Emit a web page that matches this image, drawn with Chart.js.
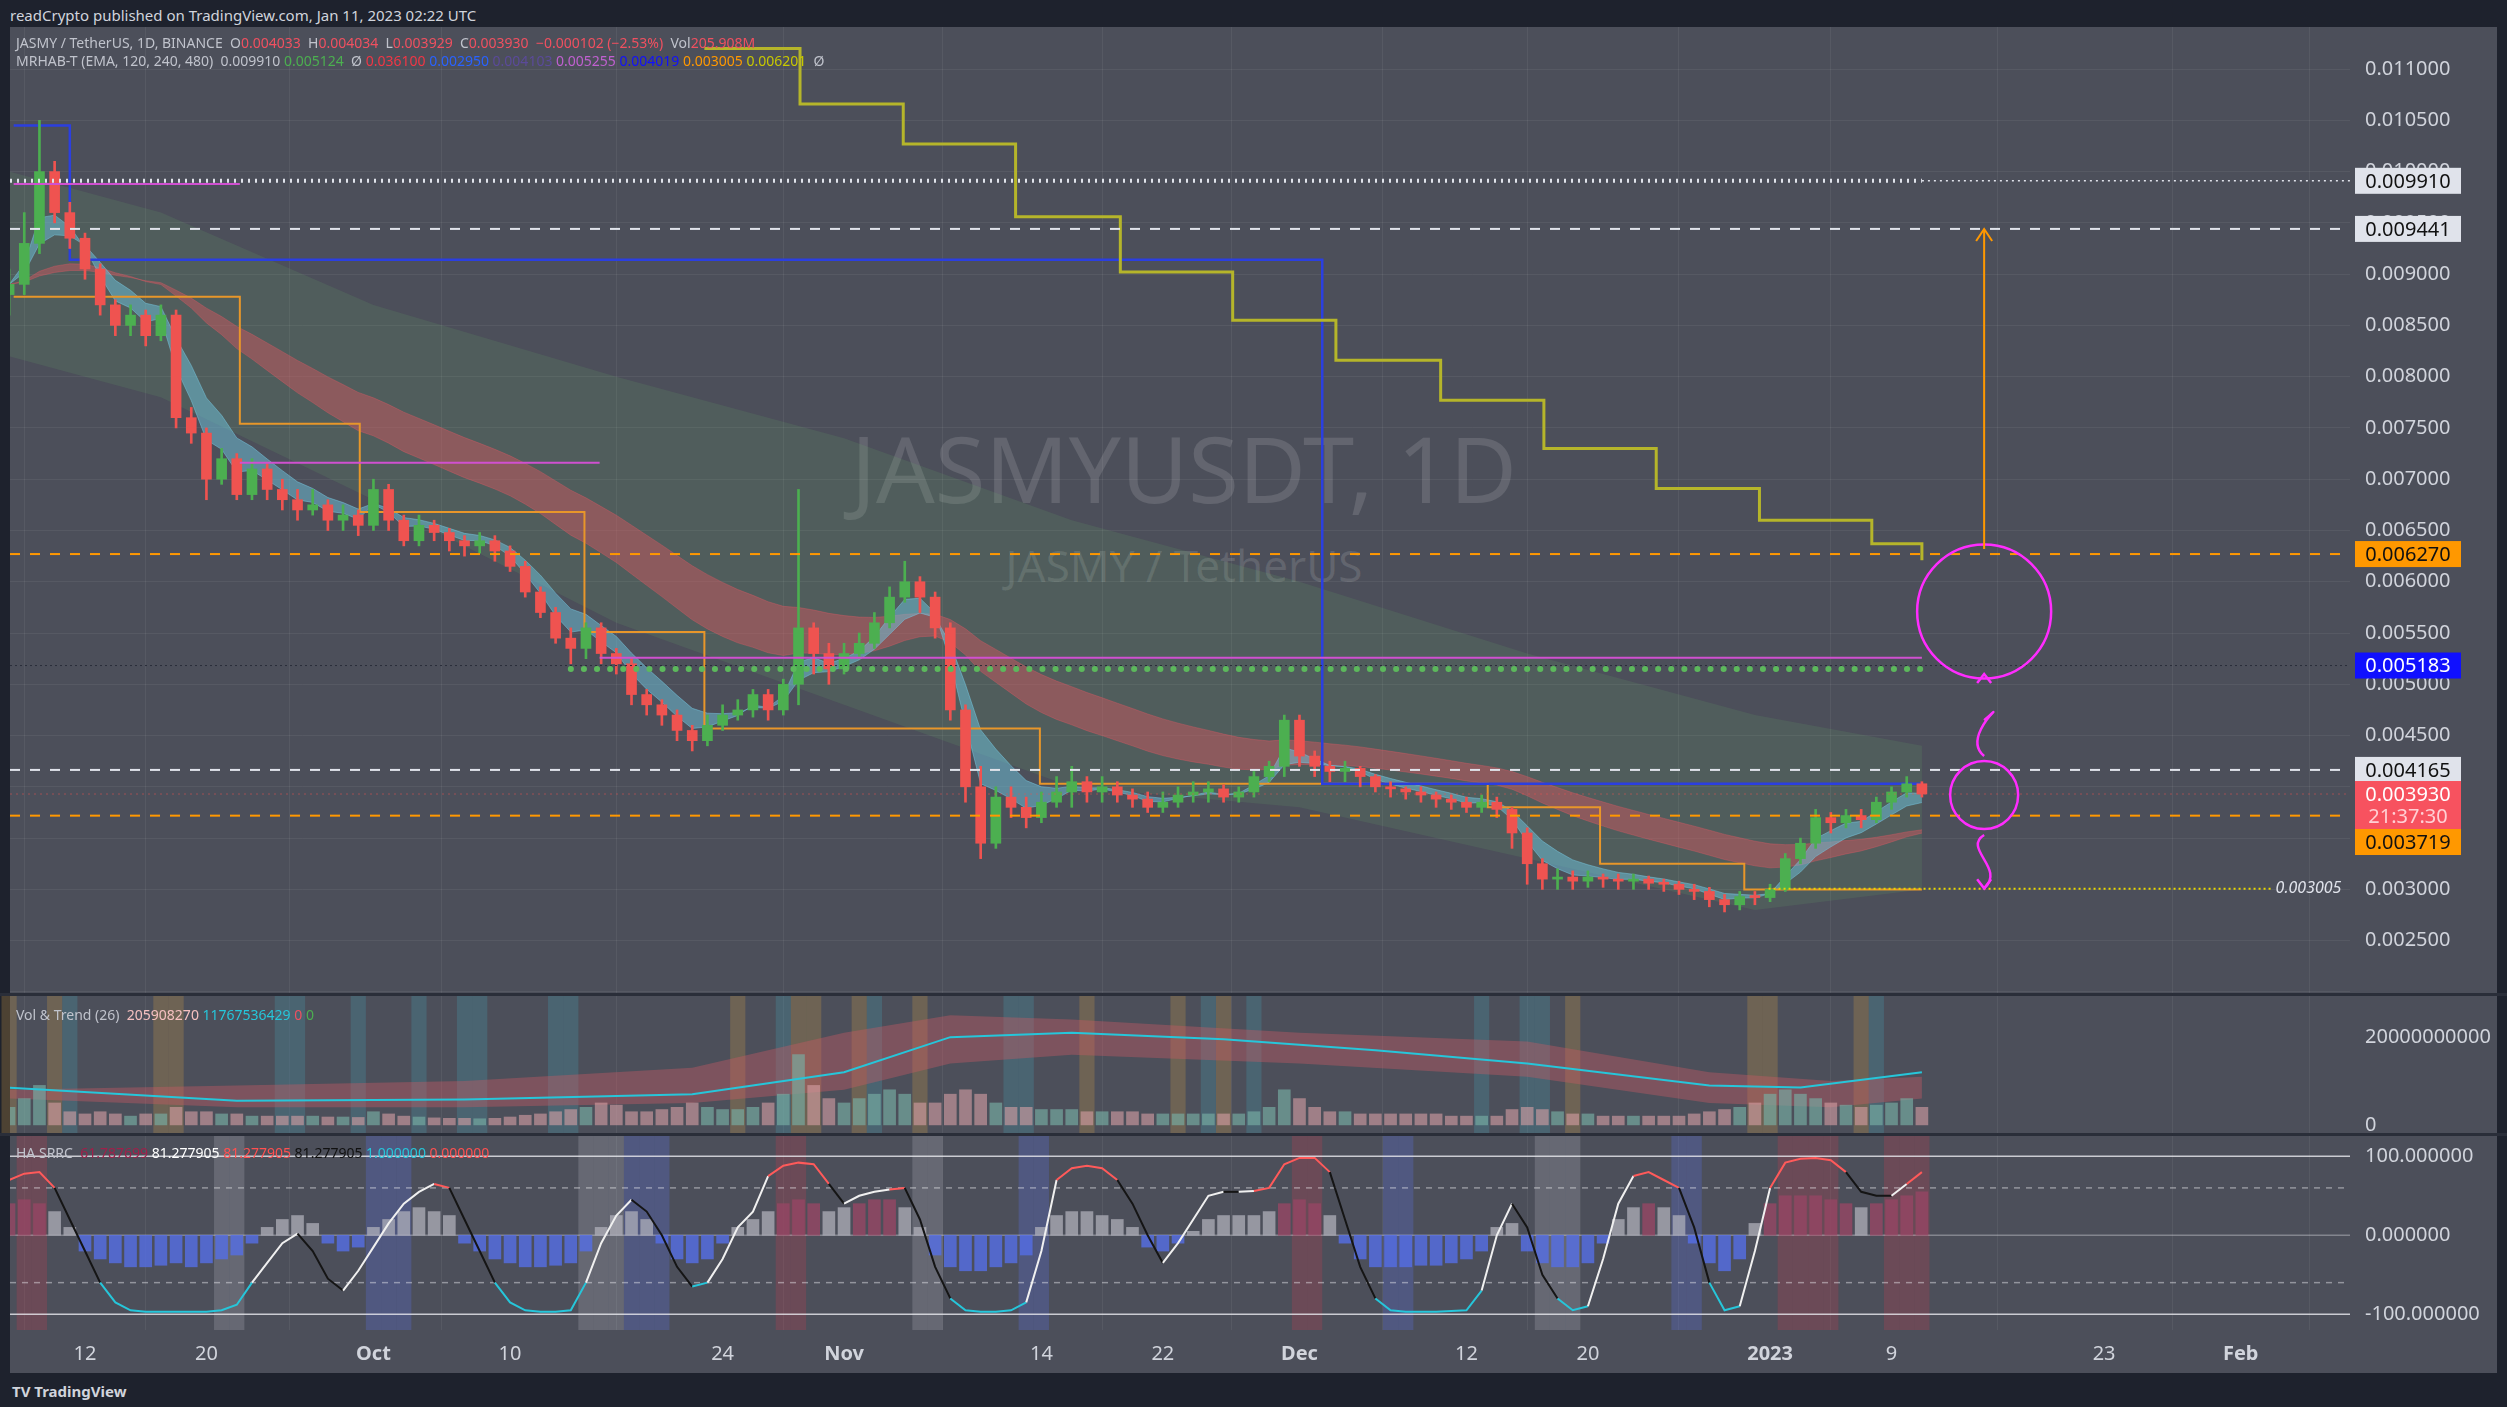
<!DOCTYPE html>
<html><head><meta charset="utf-8">
<script src="https://cdn.jsdelivr.net/npm/chart.js@4.4.1/dist/chart.umd.min.js"></script>
<style>
html,body{margin:0;padding:0;background:#1e222d;width:2507px;height:1407px;overflow:hidden;font-family:"Noto Sans",Roboto,sans-serif}
.abs{position:absolute}
#panel{left:10px;top:27px;width:2487px;height:1346px;background:#4c4f5a}
canvas{position:absolute;left:0}
.wm{color:rgba(255,255,255,0.13);text-align:center;width:1400px;font-family:"Noto Sans",sans-serif}
.lg{font-size:14px;white-space:nowrap;color:#c0c3cc}
</style></head><body>
<div id="panel" class="abs"></div>
<div class="abs wm" style="left:484px;top:405px;font-size:92px">JASMYUSDT, 1D</div>
<div class="abs wm" style="left:484px;top:535px;font-size:44px">JASMY / TetherUS</div>
<canvas id="c1" style="top:27px" width="2507" height="968"></canvas>
<canvas id="c2" style="top:995px" width="2507" height="140"></canvas>
<canvas id="c3" style="top:1135px" width="2507" height="238"></canvas>
<div class="abs lg" style="left:10px;top:5px;font-size:15px;color:#d1d4dc">readCrypto published on TradingView.com, Jan 11, 2023 02:22 UTC</div>
<div class="abs lg" style="left:16px;top:33px">JASMY / TetherUS, 1D, BINANCE &nbsp;O<span style="color:#f05060">0.004033</span> &nbsp;H<span style="color:#f05060">0.004034</span> &nbsp;L<span style="color:#f05060">0.003929</span> &nbsp;C<span style="color:#f05060">0.003930</span> &nbsp;<span style="color:#f05060">−0.000102 (−2.53%)</span> &nbsp;Vol<span style="color:#f05060">205.908M</span></div>
<div class="abs lg" style="left:16px;top:51px">MRHAB-T (EMA, 120, 240, 480) &nbsp;0.009910 <span style="color:#4caf50">0.005124</span> &nbsp;Ø <span style="color:#f23645">0.036100</span> <span style="color:#2962ff">0.002950</span> <span style="color:#5b4a9a">0.004103</span> <span style="color:#c060d0">0.005255</span> <span style="color:#1010ff">0.004019</span> <span style="color:#ff9800">0.003005</span> <span style="color:#c8c800">0.006201</span> &nbsp;Ø</div>
<div class="abs lg" style="left:16px;top:1005px">Vol &amp; Trend (26) &nbsp;<span style="color:#f5c0c0">205908270</span> <span style="color:#26c6da">11767536429</span> <span style="color:#f05060">0</span> <span style="color:#4caf50">0</span></div>
<div class="abs lg" style="left:16px;top:1143px">HA SRRC &nbsp;<span style="color:#a0204a">61.787699</span> <span style="color:#fff">81.277905</span> <span style="color:#ff5050">81.277905</span> <span style="color:#111">81.277905</span> <span style="color:#26c6da">1.000000</span> <span style="color:#ff5050">0.000000</span></div>
<div class="abs lg" style="left:12px;top:1381px;font-size:15px;color:#d1d4dc;font-weight:bold">TV TradingView</div>
<script>
// ---- data (prices in units of 1e-5 USDT, day 0 = Sep 7 2022) ----
const closes=[890,930,1000,960,935,905,870, 850,860,840,860,760,745,700, 720,685,710,690,680,670,675, 660,665,655,690,660,640,655, 648,640,635,640,630,615,590, 570,545,535,555,530,520,490, 480,470,455,445,460,470,475, 490,475,500,555,530,515,530, 540,560,585,600,585,555,475, 400,345,390,380,370,385,395, 405,395,400,392,388,380,385, 392,395,398,390,395,410,420, 465,430,420,415,418,410,400, 398,395,392,388,385,380,385, 378,355,325,310,312,308,312, 310,308,310,306,305,300,298, 290,285,293,292,300,330,345, 370,365,372,368,385,395,403, 393];
const firstOpen=880;
const highs=[905,960,1050,1010,970,940,910, 875,870,865,870,865,770,750, 730,725,720,715,700,690,690, 680,675,670,700,695,665,665, 660,652,645,648,645,635,620, 595,575,555,560,560,535,525, 495,485,475,460,470,480,485, 495,495,505,690,560,540,540, 550,570,595,620,605,590,560, 480,420,400,400,390,395,410, 420,410,410,405,398,395,395, 400,405,405,402,400,415,425, 470,470,435,425,425,420,412, 405,400,400,395,392,390,392, 390,380,360,330,320,318,318, 315,315,315,313,310,308,305, 302,295,298,298,305,335,350, 378,375,378,378,390,400,410, 405];
const lows=[860,880,920,950,925,895,860, 840,840,830,835,750,735,680, 695,680,680,680,670,660,665, 650,650,645,650,650,635,635, 640,630,625,628,620,610,585, 565,540,520,525,520,510,480, 470,460,445,435,440,455,465, 468,465,470,480,510,500,510, 525,535,555,580,570,545,465, 385,330,340,370,360,365,380, 380,385,385,385,380,375,375, 380,385,385,385,385,390,405, 410,420,410,405,405,400,395, 390,388,385,380,378,375,375, 370,340,305,300,300,300,302, 302,300,300,300,298,295,290, 283,278,280,285,288,298,325, 340,355,360,360,365,378,390, 390];
const volumes=[4,6,9,5,3,2.5,3, 2.5,2,2.5,2.5,4,3,3, 2.5,2.5,2,2,2,2,2, 1.8,1.8,1.7,3,2.5,2,1.8, 1.6,1.5,1.5,1.4,1.5,1.8,2.2, 2.5,3,3.5,4,5,4.5,3, 3,3.5,4,5,4,3.5,3.5, 4,5,7,16,9,6,5, 6,7,8,7,5,5,7, 8,7,5,4,4,3.5,3.5, 3.5,3,3,3,3,2.5,2.5, 2.5,2.5,2.5,2.5,2.5,3,4, 8,6,4,3,3,2.5,2.5, 2.5,2.5,2.5,2.5,2,2,2, 2,3.5,4,3.5,3,2.5,2.5, 2,2,2,2,2,2,2.5, 3,3.5,4,5,7,8,7, 6,5,4.5,4,4.5,5,6, 4]; // x1e9
const osc=[70,78,80,60,20,-20,-60, -85,-95,-97,-97,-97,-97,-97, -95,-88,-60,-35,-10,2,-20, -55,-70,-45,-15,15,40,55, 65,60,20,-20,-60,-85,-95, -97,-97,-95,-60,-10,25,45, 30,0,-40,-65,-60,-30,10, 30,75,88,92,90,65,40, 50,55,58,60,20,-40,-80, -95,-97,-97,-95,-85,-20,70, 85,88,85,70,40,0,-35, -10,20,50,55,55,56,60, 90,98,98,80,20,-40,-80, -95,-97,-97,-97,-96,-95,-70, 0,40,10,-50,-80,-95,-90, -30,40,75,80,70,60,10, -60,-95,-90,-20,60,92,97, 98,95,80,55,50,50,65, 80];
const hist=[40,45,40,30,10,-20,-30, -35,-40,-40,-38,-35,-40,-35, -30,-25,-10,10,20,25,15, -10,-20,-15,10,20,30,35, 30,25,-10,-20,-30,-35,-40, -40,-38,-35,-20,10,25,30, 20,-10,-30,-35,-30,-10,10, 20,30,40,45,40,30,35, 40,45,45,35,10,-25,-40, -45,-45,-40,-35,-25,10,25, 30,30,25,20,10,-15,-20, -10,5,20,25,25,25,30, 40,45,40,25,-10,-30,-40, -40,-40,-38,-38,-35,-30,-20, 10,15,-20,-35,-40,-40,-35, -10,20,35,40,35,25,-10, -35,-45,-30,15,40,50,50, 50,45,40,35,40,45,50, 55];
const cloudDays=[0,10,24,40,55,70,85,100,115,126];
const cloudUpper=[1000,960,870,800,740,660,600,530,470,440];
const cloudLower=[820,780,680,560,480,400,380,330,280,300];
const yellowDays=[45.8,52.1,58.9,66.3,73.2,80.6,87.4,94.3,101.1,108.5,115.3,122.7,126];
const yellowVals=[1120,1066,1027,956,902,855,816,777,730,691,660,637,621];
const blueDays=[0.3,4,86.5,126];
const blueVals=[1045,914,403,403];
const orangeDays=[0.3,15.2,23.1,37.9,45.8,67.9,97.4,104.8,114.3,126];
const orangeVals=[878,754,668,551,457,403,380,325,300,300];
const volTrendDays=[0,15,30,45,55,62,70,80,90,100,112,118,126];
const volTrend=[8.5,5.5,5.8,7,12,20,21,19.5,17,14,9,8.5,12];
const volBandDays=[0,15,30,45,55,62,70,85,100,112,120,126];
const volBandUp=[8,9,10,13,21,25,24,21,19,12,10,11];
const volBandLo=[6,4,4,5,8,14,16,14,11,5,4,6];
const levels=[{p:0.009910,c:'#e0e3eb',t:'#111',dash:[2,4],w:3},{p:0.009441,c:'#e0e3eb',t:'#111',dash:[10,10],w:2},{p:0.006270,c:'#ff9800',t:'#111',dash:[10,10],w:2},{p:0.005183,c:'#1010ff',t:'#fff',dash:[2,3],w:1,lc:'#2a2e39'},{p:0.004165,c:'#e0e3eb',t:'#111',dash:[10,10],w:2},{p:0.003719,c:'#ff9800',t:'#111',dash:[10,10],w:2,noBox:true}];
const tickDays=[5,13,24,33,47,55,68,76,85,96,104,116,124,138,147];
const tickNames=['12','20','Oct','10','24','Nov','14','22','Dec','12','20','2023','9','23','Feb'];
const XMIN=0.06,XMAX=154.2;

const P=v=>v/1e5;
const opens=closes.map((c,i)=>i===0?firstOpen:closes[i-1]);
function ema(arr,n){const k=2/(n+1);let e=arr[0];return arr.map(v=>(e=v*k+e*(1-k)));}
const e3=ema(closes,3),e6=ema(closes,6),e20=ema(closes,22),e30=ema(closes,35);
const pts=(xs,ys,f=P)=>xs.map((x,i)=>({x,y:f(ys[i])}));
const daily=(a,f=P)=>a.map((v,i)=>({x:i,y:f(v)}));
const UP='#4caf50',DN='#ef5350';

const gridC='rgba(255,255,255,0.06)';
function xAxis(show){return {type:'linear',min:XMIN,max:XMAX,offset:false,
  afterBuildTicks:s=>{s.ticks=tickDays.map(v=>({value:v}));},
  afterFit:s=>{s.height=show?43:0;},
  grid:{color:gridC,drawTicks:false},border:{display:false},
  ticks:{display:show,color:'#d1d4dc',padding:12,maxRotation:0,autoSkip:false,
    font:c=>({size:20,family:'Noto Sans',weight:['Oct','Nov','Dec','2023','Feb'].includes(tickNames[c.index])?'bold':'normal'}),
    callback:(v,i)=>tickNames[i]}};}
function yAxis(o,grid){return Object.assign({position:'right',afterFit:s=>{s.width=147;},
  grid:{display:grid,color:gridC,drawTicks:false},border:{display:false},
  ticks:{display:false}},o);}
const base={responsive:false,animation:false,events:[],layout:{padding:{left:10,right:10,top:0,bottom:0}},
  plugins:{legend:{display:false},tooltip:{enabled:false}}};
const yLabels={id:'yl',afterDatasetsDraw(ch,args,opt){const c=ch.ctx,ys=ch.scales.y,a=ch.chartArea;c.save();c.font='20px Noto Sans';c.fillStyle='#d1d4dc';c.textAlign='left';c.textBaseline='middle';
  ys.ticks.forEach(t=>{const y=ys.getPixelForValue(t.value);if(y<a.top+6||y>a.bottom-4)return;c.fillText(opt.fmt(t.value),a.right+15,y);});c.restore();}};

const overlay={id:'ov',afterDatasetsDraw(ch){
  const c=ch.ctx,a=ch.chartArea,xs=ch.scales.x,ys=ch.scales.y;
  const X=d=>xs.getPixelForValue(d),Y=p=>ys.getPixelForValue(p);
  c.save();c.beginPath();c.rect(a.left,a.top,a.right-a.left,a.bottom-a.top);c.clip();
  function hl(p,x0,x1,col,dash,w){c.beginPath();c.setLineDash(dash);c.lineWidth=w;c.strokeStyle=col;c.lineCap='butt';c.moveTo(x0,Y(p));c.lineTo(x1,Y(p));c.stroke();}
  hl(0.00988,X(0.3),X(15.2),'#d050d0',[],2);hl(0.00716,X(15.2),X(38.9),'#d050d0',[],2);hl(0.00526,X(38.9),X(126),'#d050d0',[],2);
  levels.forEach(l=>{ if(l.p===0.009910){hl(l.p,a.left,X(126),'#e0e3eb',[2,5],4);hl(l.p,X(126),a.right,'#e0e3eb',[2,4],1.5);} else hl(l.p,a.left,a.right,l.lc||l.c,l.dash,l.w);});
  hl(0.00393,a.left,a.right,'rgba(239,83,80,0.5)',[2,4],1);
  c.beginPath();c.setLineDash([0.1,13]);c.lineCap='round';c.lineWidth=6;c.strokeStyle='#5cb85c';c.moveTo(X(37),Y(0.00515));c.lineTo(X(126),Y(0.00515));c.stroke();
  hl(0.003005,X(115.9),X(149),'#e8d800',[2,3],2);
  c.lineCap='butt';c.setLineDash([]);
  c.font='italic 16px Noto Sans';c.fillStyle='#e0e3eb';c.textAlign='left';c.textBaseline='middle';c.fillText('0.003005',X(149.3),Y(0.003005));
  const cx=X(130.1);c.strokeStyle='#ff2cff';c.lineWidth=2.5;
  c.beginPath();c.arc(cx,Y(0.00571),67,0,Math.PI*2);c.stroke();
  c.beginPath();c.arc(cx,Y(0.00392),34,0,Math.PI*2);c.stroke();
  c.beginPath();c.moveTo(cx,Y(0.00465));c.bezierCurveTo(cx+30,Y(0.0049),cx-25,Y(0.0045),cx,Y(0.00430));c.stroke();
  c.beginPath();c.moveTo(cx,Y(0.00353));c.bezierCurveTo(cx-22,Y(0.0034),cx+22,Y(0.0032),cx,Y(0.00301));c.stroke();
  [[cx,Y(0.00510),-1],[cx,Y(0.00301),1]].forEach(([x,y,d])=>{c.beginPath();c.moveTo(x-7,y-d*9);c.lineTo(x,y);c.lineTo(x+7,y-d*9);c.stroke();});
  c.strokeStyle='#ff9800';c.lineWidth=2;c.beginPath();c.moveTo(cx,Y(0.00632));c.lineTo(cx,Y(0.00944));c.stroke();
  c.beginPath();c.moveTo(cx-8,Y(0.00944)+12);c.lineTo(cx,Y(0.00944));c.lineTo(cx+8,Y(0.00944)+12);c.stroke();
  c.restore();
  c.save();c.font='20px Noto Sans';c.textAlign='center';c.textBaseline='middle';const bx=a.right+5,bw=106;
  levels.forEach(l=>{if(l.noBox)return;const y=Y(l.p);c.fillStyle=l.c;c.fillRect(bx,y-13,bw,26);c.fillStyle=l.t;c.fillText(l.p.toFixed(6),bx+bw/2,y+1);});
  const yr=Y(0.00393);c.fillStyle='#f7525f';c.fillRect(bx,yr-13,bw,48);c.fillStyle='#fff';c.fillText('0.003930',bx+bw/2,yr+1);c.fillStyle='#ffd0d4';c.fillText('21:37:30',bx+bw/2,yr+23);
  const y3=yr+35;c.fillStyle='#ff9800';c.fillRect(bx,y3,bw,26);c.fillStyle='#111';c.fillText('0.003719',bx+bw/2,y3+14);
  c.restore();
}};

const candleBody=closes.map((v,i)=>({x:i,y:[P(opens[i]),P(v)]}));
const wicks=closes.map((v,i)=>({x:i,y:[P(lows[i]),P(highs[i])]}));
const candleCol=closes.map((v,i)=>v>=opens[i]?UP:DN);
const line=(data,col,w,extra)=>Object.assign({type:'line',data,borderColor:col,borderWidth:w,pointRadius:0,fill:false,tension:0},extra||{});

new Chart(document.getElementById('c1'),{type:'bar',data:{datasets:[
  line(pts(cloudDays,cloudUpper),'rgba(0,0,0,0)',0,{order:9}),
  line(pts(cloudDays,cloudLower),'rgba(0,0,0,0)',0,{order:9,fill:'-1',backgroundColor:'rgba(110,190,110,0.13)'}),
  line(daily(e20),'rgba(230,90,100,0.35)',1,{order:8}),
  line(daily(e30),'rgba(230,90,100,0.35)',1,{order:8,fill:'-1',backgroundColor:'rgba(225,85,95,0.42)'}),
  line(daily(e3),'rgba(120,200,225,0.5)',1,{order:7}),
  line(daily(e6),'rgba(120,200,225,0.5)',1,{order:7,fill:'-1',backgroundColor:'rgba(110,195,220,0.5)'}),
  line(pts(yellowDays,yellowVals),'#b5b52a',3,{order:3,stepped:'before'}),
  line(pts(blueDays,blueVals),'#2b3fe0',2.5,{order:3,stepped:'before'}),
  line(pts(orangeDays,orangeVals),'#e8962a',2,{order:3,stepped:'before'}),
  {type:'bar',data:wicks,backgroundColor:candleCol,barThickness:2,grouped:false,order:2},
  {type:'bar',data:candleBody,backgroundColor:candleCol,barThickness:10,grouped:false,order:1,minBarLength:2}
]},options:Object.assign({},base,{plugins:{legend:{display:false},tooltip:{enabled:false},yl:{fmt:v=>v.toFixed(6)}},scales:{x:xAxis(false),
  y:yAxis({min:0.00197,max:0.01141,afterBuildTicks:s=>{s.ticks=[];for(let v=20;v<=110;v+=5)s.ticks.push({value:v/1e4});}},true)}}),plugins:[yLabels,overlay]});

const stripes={id:'st',beforeDatasetsDraw(ch,args,opt){const c=ch.ctx,a=ch.chartArea,xs=ch.scales.x;c.save();
  opt.list.forEach(([d,col])=>{const x0=xs.getPixelForValue(d-0.5),x1=xs.getPixelForValue(d+0.5);c.fillStyle=col;c.fillRect(x0,a.top,x1-x0,a.bottom-a.top);});c.restore();}};
const O='rgba(200,150,70,0.28)',T='rgba(70,150,170,0.3)',B='rgba(90,110,220,0.3)',W='rgba(220,220,235,0.18)',R='rgba(190,60,80,0.28)';
const volStripes=[[0,O],[3,O],[4,T],[10,O],[11,O],[18,T],[19,T],[23,T],[27,T],[30,T],[31,T],[36,T],[37,T],[48,O],[51,T],[52,O],[53,O],[56,O],[57,T],[60,O],[66,T],[67,T],[71,O],[77,O],[79,T],[80,O],[82,T],[97,T],[100,T],[101,T],[103,O],[115,O],[116,O],[122,O],[123,T]];
new Chart(document.getElementById('c2'),{type:'bar',data:{datasets:[
  line(pts(volBandDays,volBandUp,v=>v),'rgba(0,0,0,0)',0,{order:5}),
  line(pts(volBandDays,volBandLo,v=>v),'rgba(0,0,0,0)',0,{order:5,fill:'-1',backgroundColor:'rgba(200,90,100,0.4)'}),
  line(pts(volTrendDays,volTrend,v=>v),'#26c6da',2,{order:1}),
  {type:'bar',data:daily(volumes,v=>v),backgroundColor:candleCol.map(c=>c===UP?'rgba(120,175,165,0.65)':'rgba(215,160,165,0.6)'),barThickness:12,grouped:false,order:3}
]},options:Object.assign({},base,{plugins:{legend:{display:false},tooltip:{enabled:false},st:{list:volStripes},yl:{fmt:v=>v===20?'20000000000':'0'}},scales:{x:xAxis(false),
  y:yAxis({min:-2.3,max:29.6,afterBuildTicks:s=>{s.ticks=[{value:0},{value:20}];}},false)}}),plugins:[stripes,yLabels]});

const oscStripes=[[1,R],[2,R],[14,W],[15,W],[24,B],[25,B],[26,B],[38,W],[39,W],[40,W],[41,B],[42,B],[43,B],[51,R],[52,R],[60,W],[61,W],[67,B],[68,B],[85,R],[86,R],[91,B],[92,B],[101,W],[102,W],[103,W],[110,B],[111,B],[117,R],[118,R],[119,R],[120,R],[124,R],[125,R],[126,R]];
const oscLines={id:'ol',beforeDatasetsDraw(ch){const c=ch.ctx,a=ch.chartArea,Y=v=>ch.scales.y.getPixelForValue(v);c.save();
  [[100,[],'rgba(235,235,240,0.8)'],[-100,[],'rgba(235,235,240,0.8)'],[60,[6,6],'rgba(235,235,240,0.45)'],[-60,[6,6],'rgba(235,235,240,0.45)'],[0,[],'rgba(235,235,240,0.35)']].forEach(([v,d,col])=>{c.beginPath();c.setLineDash(d);c.strokeStyle=col;c.lineWidth=1.5;c.moveTo(a.left,Y(v));c.lineTo(a.right,Y(v));c.stroke();});c.restore();}};
const segCol=ctx=>{const y0=ctx.p0.parsed.y,y1=ctx.p1.parsed.y;if(y0>55&&y1>55)return '#ff5a5a';if(y0<-55&&y1<-55)return '#26c6da';return y1>y0?'#f0f0f0':'#151515';};
new Chart(document.getElementById('c3'),{type:'bar',data:{datasets:[
  line(daily(osc,v=>v),'#151515',2,{order:1,segment:{borderColor:segCol}}),
  {type:'bar',data:daily(hist,v=>v),backgroundColor:hist.map(v=>v<0?'rgba(85,110,230,0.8)':v>38?'rgba(150,70,100,0.8)':'rgba(175,175,185,0.75)'),barThickness:12,grouped:false,order:3}
]},options:Object.assign({},base,{plugins:{legend:{display:false},tooltip:{enabled:false},st:{list:oscStripes},yl:{fmt:v=>v===100?'100.000000':v===0?'0.000000':'-100.000000'}},scales:{x:xAxis(true),
  y:yAxis({min:-120,max:127,afterBuildTicks:s=>{s.ticks=[{value:-100},{value:0},{value:100}];}},false)}}),plugins:[stripes,oscLines,yLabels]});
</script>
<div class="abs" style="left:0;top:993px;width:2507px;height:3px;background:#2a2e39"></div>
<div class="abs" style="left:0;top:1133px;width:2507px;height:3px;background:#2a2e39"></div>
</body></html>
